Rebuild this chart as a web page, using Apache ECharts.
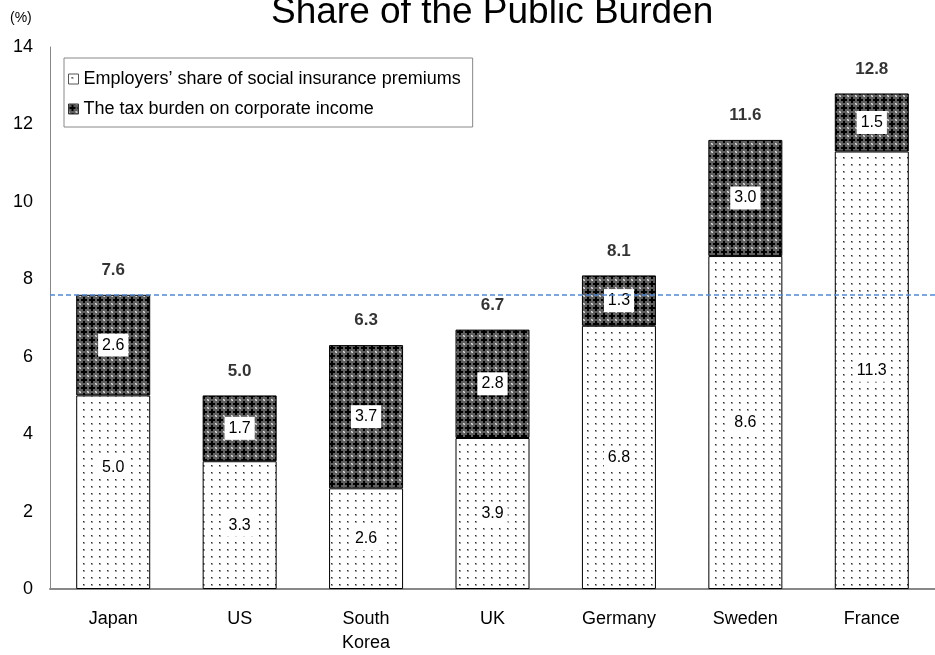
<!DOCTYPE html>
<html>
<head>
<meta charset="utf-8">
<script src="https://cdn.jsdelivr.net/npm/echarts@6/dist/echarts.min.js"></script>
<style>
  html, body { margin: 0; padding: 0; background: #fff; }
  #chart { width: 935px; height: 655px; }
</style>
</head>
<body>
<div id="chart"></div>
<script>
// Share of the public burden borne by companies, % of GDP
const countries = ['Japan', 'US', 'South\nKorea', 'UK', 'Germany', 'Sweden', 'France'];
const socialInsurance = [5.0, 3.3, 2.6, 3.9, 6.8, 8.6, 11.3];
const corporateTax = [2.6, 1.7, 3.7, 2.8, 1.3, 3.0, 1.5];
const yTicks = { min: 0, max: 14, interval: 2 };
const seriesNames = [
  'Employers\u2019 share of social insurance premiums',
  'The tax burden on corporate income'
];

const totals = socialInsurance.map((v, i) => Math.round((v + corporateTax[i]) * 10) / 10);

const FONT = '"Liberation Sans", Arial, sans-serif';

// sparse dot fill for the lower segment
function dotPattern() {
  const c = document.createElement('canvas');
  c.width = 8; c.height = 7;
  const g = c.getContext('2d');
  g.fillStyle = '#ffffff';
  g.fillRect(0, 0, 8, 7);
  g.fillStyle = '#a0a0a0';
  g.fillRect(3, 3, 2, 2);
  g.fillStyle = '#2a2a2a';
  g.fillRect(3, 3, 1, 1);
  return c;
}

// dark lattice fill for the upper segment
function latticePattern() {
  const c = document.createElement('canvas');
  c.width = 8; c.height = 8;
  const g = c.getContext('2d');
  g.fillStyle = '#5e5e5e';
  g.fillRect(0, 0, 8, 8);
  g.fillStyle = '#000000';
  g.fillRect(1, 3, 6, 2);
  g.fillRect(3, 1, 2, 6);
  g.fillStyle = '#a8a8a8';
  g.fillRect(7, 0, 1, 1);
  g.fillRect(0, 7, 1, 1);
  g.fillStyle = '#dcdcdc';
  g.fillRect(0, 0, 1, 1);
  g.fillRect(7, 7, 1, 1);
  return c;
}

const dotFill = { image: dotPattern(), repeat: 'repeat' };
const latticeFill = { image: latticePattern(), repeat: 'repeat' };

const innerLabel = {
  show: true,
  position: 'inside',
  formatter: p => Number(p.value).toFixed(1),
  fontFamily: FONT,
  fontSize: 16,
  color: '#000',
  backgroundColor: '#fff',
  padding: [4, 4, 3, 4]
};

const chart = echarts.init(document.getElementById('chart'), null, { renderer: 'canvas' });

chart.setOption({
  animation: false,
  backgroundColor: '#ffffff',
  title: {
    text: 'Share of the Public Burden',
    left: 271,
    top: -6,
    padding: 0,
    textStyle: { fontFamily: FONT, fontSize: 37, fontWeight: 'normal', color: '#000' }
  },
  graphic: [{
    type: 'text',
    left: 10,
    top: 11,
    style: { text: '(%)', font: '14px ' + FONT, fill: '#000' }
  }],
  legend: {
    orient: 'vertical',
    left: 64,
    top: 58,
    padding: [12, 12, 9, 4],
    itemGap: 12,
    itemWidth: 10,
    itemHeight: 10,
    backgroundColor: '#fff',
    borderColor: '#888',
    borderWidth: 1,
    textStyle: { fontFamily: FONT, fontSize: 18, color: '#000' },
    data: [
      { name: seriesNames[0], icon: 'rect', itemStyle: { color: dotFill, borderColor: '#555', borderWidth: 1 } },
      { name: seriesNames[1], icon: 'rect', itemStyle: { color: latticeFill, borderColor: '#333', borderWidth: 1 } }
    ]
  },
  grid: { left: 50, right: -12, top: 47, bottom: 62 },
  xAxis: {
    type: 'category',
    data: countries,
    axisLine: { lineStyle: { color: '#888', width: 2 } },
    axisTick: { show: false },
    axisLabel: { fontFamily: FONT, fontSize: 18, color: '#000', margin: 18, lineHeight: 24 }
  },
  yAxis: {
    type: 'value',
    min: yTicks.min,
    max: yTicks.max,
    interval: yTicks.interval,
    axisLine: { show: true, lineStyle: { color: '#888', width: 1 } },
    axisTick: { show: false },
    splitLine: { show: false },
    axisLabel: { fontFamily: FONT, fontSize: 18, color: '#000', margin: 17 }
  },
  series: [
    {
      name: seriesNames[0],
      type: 'bar',
      stack: 'burden',
      barWidth: 74,
      data: socialInsurance.map((v, i) => i === 0
        ? { value: v, label: { offset: [0, -25] } }
        : v),
      itemStyle: { color: dotFill, borderColor: '#000', borderWidth: 1 },
      label: innerLabel
    },
    {
      name: seriesNames[1],
      type: 'bar',
      stack: 'burden',
      barWidth: 74,
      data: corporateTax,
      itemStyle: { color: latticeFill, borderColor: '#000', borderWidth: 1 },
      label: innerLabel,
      markLine: {
        silent: true,
        symbol: 'none',
        label: { show: false },
        emphasis: { disabled: true },
        lineStyle: { color: '#4f8ad8', type: [5, 3], width: 1.5, opacity: 1 },
        data: [{ yAxis: totals[0] }]
      }
    },
    {
      name: 'total',
      type: 'scatter',
      data: totals,
      symbolSize: 0,
      silent: true,
      z: 5,
      label: {
        show: true,
        position: 'top',
        distance: 16,
        formatter: p => Number(p.value).toFixed(1),
        fontFamily: FONT,
        fontSize: 17,
        fontWeight: 'bold',
        color: '#000'
      }
    }
  ]
});
</script>
</body>
</html>
